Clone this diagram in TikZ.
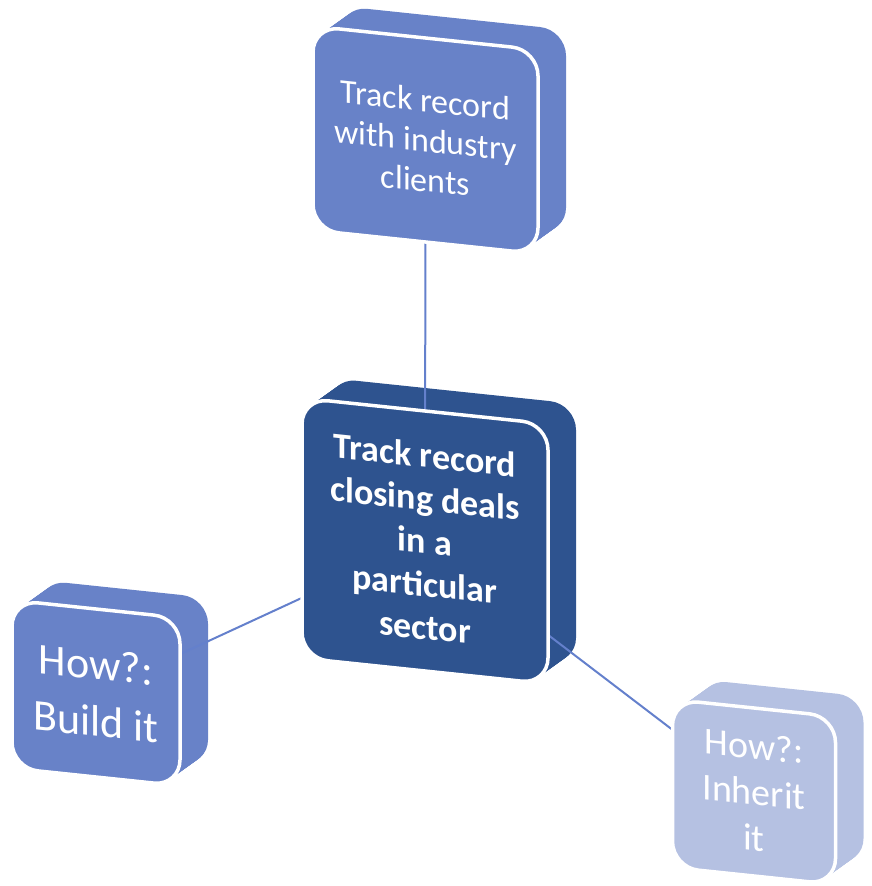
\documentclass[tikz,border=0pt]{standalone}
\usepackage{fontspec}
\setmainfont{Carlito}
\definecolor{midblue}{RGB}{104,130,200}
\definecolor{darkblue}{RGB}{46,83,143}
\definecolor{lightblue}{RGB}{181,193,226}
\definecolor{linkblue}{RGB}{100,128,204}
\pgfdeclarelayer{back}
\pgfdeclarelayer{mid}
\pgfsetlayers{back,mid,main}
\tikzset{
  face/.style={draw=white, line width=3.5pt, rounded corners=26pt, text=white,
    align=center, inner sep=0pt, transform shape},
  link/.style={draw=linkblue, line width=2pt},
}
% #1 name, #2 x, #3 y, #4 w, #5 h, #6 colour, #7 font, #8 text
\newcommand\cubebox[8]{%
  \begin{scope}[shift={(#2,#3)}, yslant=-0.105]
    \begin{pgfonlayer}{back}
      \foreach \k in {0,...,20} {
        \fill[#6, rounded corners=26pt, shift={(1.4*\k,-1.15*\k)}]
          (-#4/2,-#5/2) rectangle (#4/2,#5/2);
      }
    \end{pgfonlayer}
    \node[face, fill=#6, minimum width=#4, minimum height=#5, font=#7] (#1) at (0,0) {#8};
  \end{scope}
}
\begin{document}
\begin{tikzpicture}[x=1pt, y=-1pt]
  \useasboundingbox (0,0) rectangle (871,886);
  \cubebox{topbox}{425.5}{140}{225}{204}{midblue}{\fontsize{34}{40}\selectfont}{Track record\\with industry\\clients}
  \cubebox{hub}{425}{541}{246}{260}{darkblue}{\fontsize{36}{43}\selectfont\bfseries}{Track record\\closing deals\\in a\\particular\\sector}
  \cubebox{leftbox}{96}{693}{168}{168}{midblue}{\fontsize{44}{57}\selectfont}{How?:\\Build it}
  \cubebox{rightbox}{754}{792}{163}{168}{lightblue}{\fontsize{38}{46}\selectfont}{How?:\\Inherit\\it}
  \begin{pgfonlayer}{mid}
    \draw[link] (hub.center) -- (topbox.center);
    \draw[link] (hub.center) -- (leftbox.center);
    \draw[link] (hub.center) -- (rightbox.center);
  \end{pgfonlayer}
\end{tikzpicture}
\end{document}
